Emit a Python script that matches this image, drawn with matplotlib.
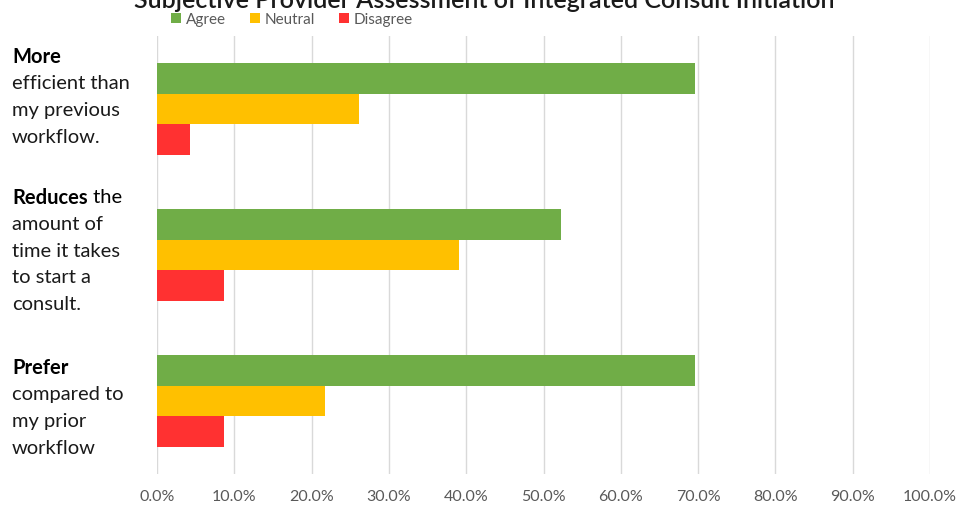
import numpy as np
import matplotlib
matplotlib.use("Agg")
import matplotlib.pyplot as plt
import matplotlib.transforms as mtransforms
from matplotlib.patches import Patch

# DATA
title = "Subjective Provider Assessment of Integrated Consult Initiation"
series_names = ["Agree", "Neutral", "Disagree"]
# each label: list of lines, first line is (bold part, normal part)
category_labels = [
    [("More", ""), "efficient than", "my previous", "workflow."],
    [("Reduces", " the"), "amount of", "time it takes", "to start a", "consult."],
    [("Prefer", ""), "compared to", "my prior", "workflow"],
]
agree = [69.6, 52.2, 69.6]
neutral = [26.1, 39.1, 21.7]
disagree = [4.3, 8.7, 8.7]
xticks = np.arange(0, 101, 10)

# STYLE
colors = ["#70AD47", "#FFC000", "#FF3131"]
grid_color = "#D9D9D9"
tick_color = "#595959"
FONT = "Lato"
bar_h = 0.209
label_shift = [-0.089, -0.034, 0.041]  # vertical nudge of each label block
line_gap = 0.183

plt.rcParams["font.family"] = [FONT, "DejaVu Sans"]

fig = plt.figure(figsize=(9.59, 5.06), dpi=100)
ax = fig.add_axes([157 / 959, 1 - 475 / 506, 773 / 959, 438 / 506])

ind = np.arange(len(agree))
values = [agree, neutral, disagree]
for k, vals in enumerate(values):
    ax.barh(ind + (k - 1) * bar_h, vals, height=bar_h, color=colors[k],
            linewidth=0, zorder=3)

ax.set_xlim(0, 100)
ax.set_ylim(len(agree) - 0.5, -0.5)
ax.set_xticks(xticks)
ax.set_xticklabels(["%.1f%%" % v for v in xticks], fontsize=11.5, color=tick_color)
ax.set_yticks([])
ax.tick_params(axis="x", length=0, pad=11)
ax.grid(axis="x", color=grid_color, linewidth=1, zorder=0)
for s in ax.spines.values():
    s.set_visible(False)

# category labels, left aligned in figure coordinates
trans = mtransforms.blended_transform_factory(fig.transFigure, ax.transData)
for i, lines in enumerate(category_labels):
    n = len(lines)
    center = ind[i] + label_shift[i]
    for j, line in enumerate(lines):
        y = center + (j - (n - 1) / 2) * line_gap
        if isinstance(line, tuple):
            bold, rest = line
            t = ax.text(12 / 959, y, bold, transform=trans, fontsize=14.5,
                        fontweight="bold", color="black", va="center", ha="left")
            if rest:
                ax.annotate(rest, xy=(1, 0.5), xycoords=t, xytext=(0, 0),
                            textcoords="offset points", fontsize=14.5,
                            color="black", va="center", ha="left")
        else:
            ax.text(12 / 959, y, line, transform=trans, fontsize=14.5,
                    color="#1a1a1a", va="center", ha="left")

# title (top half is cut off in the original)
fig.text(0.505, 1 - 8 / 506, title, ha="center", va="baseline", fontsize=18,
         fontweight="semibold", color="#1a1a1a")

handles = [Patch(facecolor=c, edgecolor="none") for c in colors]
fig.legend(handles, series_names, loc="center", bbox_to_anchor=(292 / 959, 1 - 20 / 506),
           ncol=3, frameon=False, fontsize=11, handlelength=0.65, handleheight=0.65,
           handletextpad=0.3, columnspacing=1.6, labelcolor=tick_color)

fig.savefig("out.png", dpi=100)
